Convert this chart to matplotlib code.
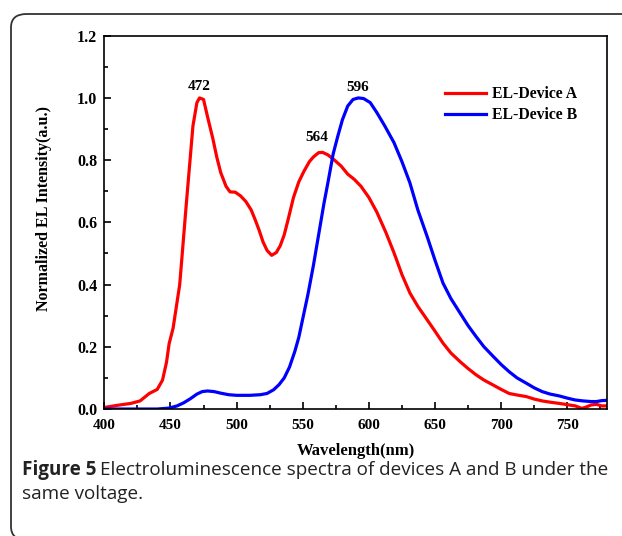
import matplotlib
matplotlib.use("Agg")
import matplotlib.pyplot as plt
import numpy as np
from matplotlib.patches import FancyBboxPatch
from matplotlib.ticker import MultipleLocator

# EL spectra (wavelength in nm, normalized intensity)
wl_a = [400, 410, 420, 427, 434, 440, 444, 447, 449, 452, 457, 462, 467, 470, 472,
        475, 478, 482, 485, 488, 492, 495, 499, 503, 507, 511, 514, 517, 520, 523,
        526.5, 530, 533, 536, 539, 543, 547, 551, 555, 558, 562, 565, 569, 574, 579,
        584, 589, 594, 600, 606, 613, 619, 625, 631, 637, 644, 650, 656, 662, 669,
        675, 681, 687, 694, 700, 706, 712, 719, 725, 731, 737, 744, 750, 756, 761,
        764, 768, 772, 776, 780]
int_a = [0.005, 0.012, 0.018, 0.026, 0.05, 0.063, 0.093, 0.15, 0.21, 0.26, 0.40, 0.66,
         0.91, 0.985, 1.0, 0.995, 0.94, 0.87, 0.81, 0.76, 0.716, 0.698, 0.697, 0.685,
         0.667, 0.64, 0.609, 0.575, 0.537, 0.51, 0.494, 0.503, 0.525, 0.56, 0.61, 0.68,
         0.73, 0.765, 0.795, 0.81, 0.824, 0.825, 0.817, 0.80, 0.781, 0.755, 0.738,
         0.716, 0.68, 0.633, 0.566, 0.502, 0.432, 0.373, 0.33, 0.287, 0.25, 0.212,
         0.18, 0.152, 0.13, 0.11, 0.093, 0.077, 0.063, 0.05, 0.045, 0.04, 0.032,
         0.026, 0.022, 0.018, 0.014, 0.01, 0.002, 0.006, 0.013, 0.015, 0.01, 0.01]

wl_b = [400, 420, 440, 449, 455, 460, 465, 470, 474, 478, 483, 488, 494, 500, 510,
        518, 523, 528, 532, 536, 540, 544, 547, 550, 554, 558, 562, 566, 569, 573,
        576.5, 580, 584, 588, 592, 596, 601, 606, 612, 619, 625, 631, 637, 644, 650,
        656, 662, 669, 675, 681, 687, 694, 700, 706, 712, 719, 725, 731, 737, 744,
        750, 756, 762, 768, 772, 776, 780]
int_b = [0.0, 0.0, 0.0, 0.003, 0.01, 0.02, 0.033, 0.048, 0.056, 0.058, 0.056, 0.051,
         0.046, 0.044, 0.044, 0.046, 0.05, 0.062, 0.078, 0.1, 0.135, 0.185, 0.23,
         0.29, 0.37, 0.46, 0.56, 0.66, 0.727, 0.82, 0.877, 0.93, 0.974, 0.995, 1.0,
         0.998, 0.985, 0.953, 0.91, 0.856, 0.795, 0.727, 0.64, 0.555, 0.478, 0.405,
         0.355, 0.308, 0.268, 0.233, 0.2, 0.169, 0.143, 0.12, 0.1, 0.083, 0.068,
         0.056, 0.048, 0.042, 0.035, 0.029, 0.026, 0.024, 0.024, 0.027, 0.028]

peaks_a = [472, 564]
peaks_b = [596]

serif = "Liberation Serif"

fig = plt.figure(figsize=(6.22, 5.36), dpi=100)

# rounded frame, right edge runs off the picture, bottom corner just visible
frame = FancyBboxPatch((11 / 622, -4 / 536), 1.2, 1 - 10 / 536,
                       boxstyle="round,pad=0,rounding_size=0.025",
                       transform=fig.transFigure, fill=False,
                       edgecolor="#333333", linewidth=1.3)
fig.patches.append(frame)

ax = fig.add_axes([0.1677, 0.2369, 0.8082, 0.6965])
ax.plot(wl_a, int_a, color="#ff0000", lw=2.3, label="EL-Device A")
ax.plot(wl_b, int_b, color="#0000ff", lw=2.3, label="EL-Device B")

ax.set_xlim(400, 780)
ax.set_ylim(0, 1.2)
ax.xaxis.set_major_locator(MultipleLocator(50))
ax.xaxis.set_minor_locator(MultipleLocator(25))
ax.yaxis.set_major_locator(MultipleLocator(0.2))
ax.yaxis.set_minor_locator(MultipleLocator(0.1))
ax.tick_params(which="both", direction="in", width=1.2, top=False, right=False)
ax.tick_params(which="major", length=5)
ax.tick_params(which="minor", length=3)
ax.tick_params(axis="x", which="major", pad=7)
ax.tick_params(axis="y", which="major", pad=5)
for s in ax.spines.values():
    s.set_linewidth(1.2)
for lab in ax.get_xticklabels():
    lab.set_fontfamily(serif)
    lab.set_fontweight("bold")
    lab.set_fontsize(11)
for lab in ax.get_yticklabels():
    lab.set_fontfamily(serif)
    lab.set_fontweight("bold")
    lab.set_fontsize(11.5)

ax.set_xlabel("Wavelength(nm)", fontfamily=serif, fontweight="bold", fontsize=12)
ax.xaxis.set_label_coords(0.5, -0.09)
ax.set_ylabel("Normalized EL Intensity(a.u.)", fontfamily=serif, fontweight="bold",
              fontsize=11.5)
ax.yaxis.set_label_coords(-0.104, 0.536)

# peak labels
offsets = {472: (0, 8), 564: (-3, 11), 596: (-4, 8)}
for p in peaks_a:
    ax.annotate(str(p), xy=(p, np.interp(p, wl_a, int_a)), xytext=offsets[p],
                textcoords="offset points", ha="center", va="center",
                fontfamily=serif, fontweight="bold", fontsize=11)
for p in peaks_b:
    ax.annotate(str(p), xy=(p, np.interp(p, wl_b, int_b)), xytext=offsets[p],
                textcoords="offset points", ha="center", va="center",
                fontfamily=serif, fontweight="bold", fontsize=11)

ax.legend(loc="upper left", bbox_to_anchor=(445 / 622, 1 - 86 / 536),
          bbox_transform=fig.transFigure, frameon=False, borderpad=0,
          borderaxespad=0, handlelength=2.6, handletextpad=0.4, labelspacing=0.35,
          prop={"family": serif, "weight": "bold", "size": 11.3})

# caption
cap_font = "Open Sans"
cap_size = 13.6
t1 = fig.text(22 / 622, 1 - 470 / 536, "Figure 5", fontfamily=cap_font,
              fontweight="bold", fontsize=cap_size, va="center", color="#222222")
fig.canvas.draw()
bb = t1.get_window_extent()
fig.text((bb.x1 + 4) / 622, 1 - 470 / 536,
         "Electroluminescence spectra of devices A and B under the",
         fontfamily=cap_font, fontsize=cap_size, va="center", color="#222222")
fig.text(22 / 622, 1 - 494 / 536, "same voltage.", fontfamily=cap_font,
         fontsize=cap_size, va="center", color="#222222")

fig.savefig("out.png", dpi=100)
